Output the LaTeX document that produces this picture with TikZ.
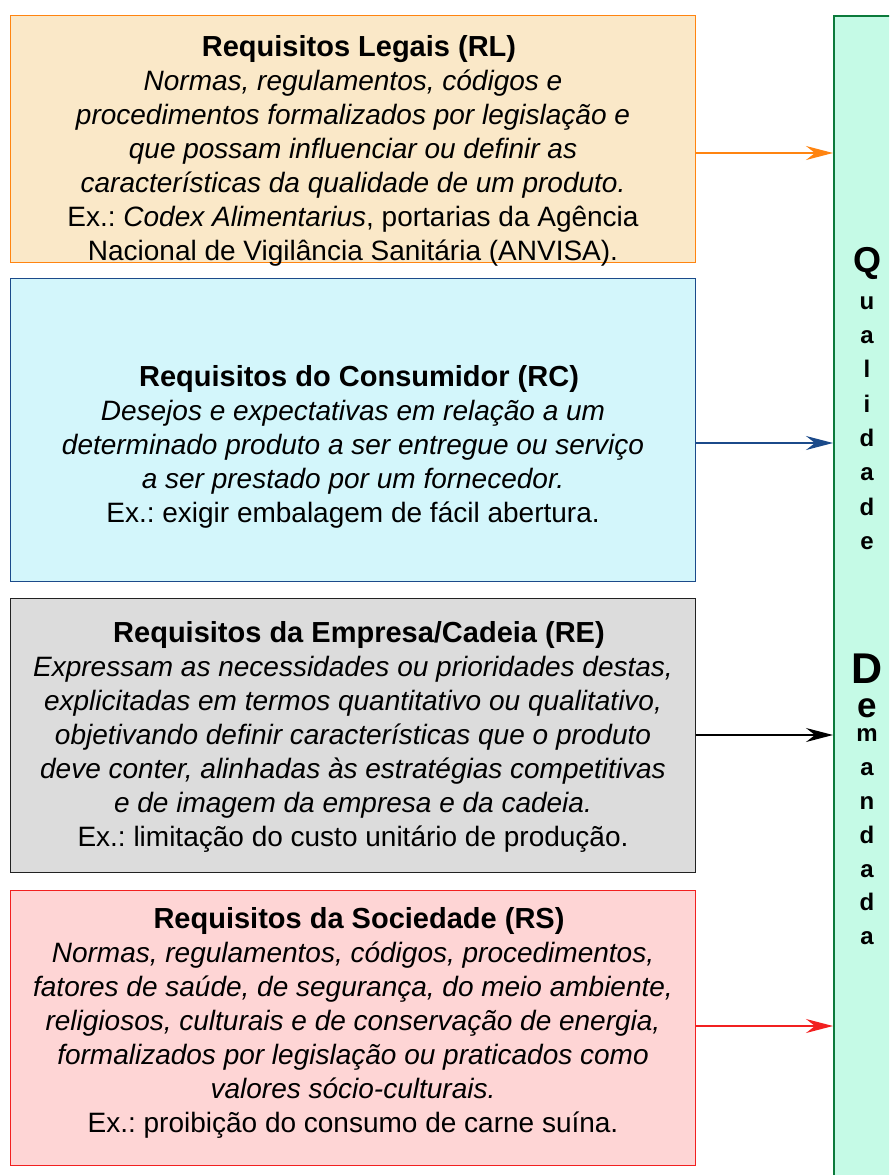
\documentclass[tikz,border=0pt]{standalone}
\usepackage{fontspec}
\setmainfont{Liberation Sans}
\usetikzlibrary{arrows.meta}
\definecolor{rlfill}{HTML}{FAE8C8}
\definecolor{rldraw}{HTML}{FF8410}
\definecolor{rcfill}{HTML}{D3F6FB}
\definecolor{rcdraw}{HTML}{1B4A8A}
\definecolor{refill}{HTML}{DCDCDC}
\definecolor{redraw}{HTML}{222222}
\definecolor{rsfill}{HTML}{FED5D5}
\definecolor{rsdraw}{HTML}{F22020}
\definecolor{qfill}{HTML}{C5FAE6}
\definecolor{qdraw}{HTML}{0B7A3B}
\frenchspacing
\newcommand{\reqtitle}[1]{\hspace*{12pt}{\fontsize{29}{34}\selectfont\bfseries #1}}
\begin{document}
\begin{tikzpicture}[x=1pt,y=-1pt,
  reqbox/.style={draw, line width=1.3pt, inner sep=0pt, minimum width=685pt, anchor=north west},
  reqtext/.style={align=center, anchor=north, inner sep=0pt, font=\fontsize{28}{34}\selectfont},
  feed/.style={line width=1.3pt, -{Stealth[length=27pt,width=14pt,inset=9pt]}},
  letter/.style={anchor=base, inner sep=0pt, font=\bfseries\fontsize{24}{24}\selectfont},
  bigletter/.style={anchor=base, inner sep=0pt, font=\bfseries\fontsize{#1}{#1}\selectfont}]
\useasboundingbox (0,0) rectangle (889,1175);
\clip (0,0) rectangle (889,1175);
% boxes
\node[reqbox, fill=rlfill, draw=rldraw, minimum height=247pt] (RL) at (10,15) {};
\node[reqbox, fill=rcfill, draw=rcdraw, minimum height=303pt] (RC) at (10,278) {};
\node[reqbox, fill=refill, draw=redraw, minimum height=274pt] (RE) at (10,598) {};
\node[reqbox, fill=rsfill, draw=rsdraw, minimum height=275pt] (RS) at (10,890) {};
% column
\node[draw=qdraw, fill=qfill, line width=1.5pt, inner sep=0pt, minimum width=100pt, minimum height=1200pt, anchor=north west] (QD) at (833,15) {};
% texts
\node[reqtext] (tRL) at (353,35) {\reqtitle{Requisitos Legais (RL)}\\
\textit{Normas, regulamentos, códigos e}\\
\textit{procedimentos formalizados por legislação e}\\
\textit{que possam influenciar ou definir as}\\
\textit{características da qualidade de um produto.}\\
Ex.: \textit{Codex Alimentarius}, portarias da Agência\\
Nacional de Vigilância Sanitária (ANVISA).};
\node[reqtext] (tRC) at (353,365) {\reqtitle{Requisitos do Consumidor (RC)}\\
\textit{Desejos e expectativas em relação a um}\\
\textit{determinado produto a ser entregue ou serviço}\\
\textit{a ser prestado por um fornecedor.}\\
Ex.: exigir embalagem de fácil abertura.};
\node[reqtext] (tRE) at (353,621) {\reqtitle{Requisitos da Empresa/Cadeia (RE)}\\
\textit{Expressam as necessidades ou prioridades destas,}\\
\textit{explicitadas em termos quantitativo ou qualitativo,}\\
\textit{objetivando definir características que o produto}\\
\textit{deve conter, alinhadas às estratégias competitivas}\\
\textit{e de imagem da empresa e da cadeia.}\\
Ex.: limitação do custo unitário de produção.};
\node[reqtext] (tRS) at (353,907) {\reqtitle{Requisitos da Sociedade (RS)}\\
\textit{Normas, regulamentos, códigos, procedimentos,}\\
\textit{fatores de saúde, de segurança, do meio ambiente,}\\
\textit{religiosos, culturais e de conservação de energia,}\\
\textit{formalizados por legislação ou praticados como}\\
\textit{valores sócio-culturais.}\\
Ex.: proibição do consumo de carne suína.};
% arrow anchor points
\coordinate (aRL) at (695,153);
\coordinate (aRC) at (695,443);
\coordinate (aRE) at (695,735);
\coordinate (aRS) at (695,1026);
\draw[feed, rldraw] (RL.east |- aRL) -- (QD.west |- aRL);
\draw[feed, rcdraw] (RC.east |- aRC) -- (QD.west |- aRC);
\draw[feed, black] (RE.east |- aRE) -- (QD.west |- aRE);
\draw[feed, rsdraw] (RS.east |- aRS) -- (QD.west |- aRS);
% column letters
\node[bigletter=36] (c1) at (867,272) {Q};
\foreach \ch/\yy [count=\i from 2] in {u/309, a/343, l/377, i/412, d/446, a/480, d/515, e/549}
  \node[letter] (c\i) at (867,\yy) {\ch};
\node[bigletter=43] (c10) at (867,683) {D};
\node[bigletter=35] (c11) at (867,717) {e};
\foreach \ch/\yy [count=\i from 12] in {m/741, a/775, n/809, d/843, a/877, d/910, a/944}
  \node[letter] (c\i) at (867,\yy) {\ch};
\end{tikzpicture}
\end{document}
